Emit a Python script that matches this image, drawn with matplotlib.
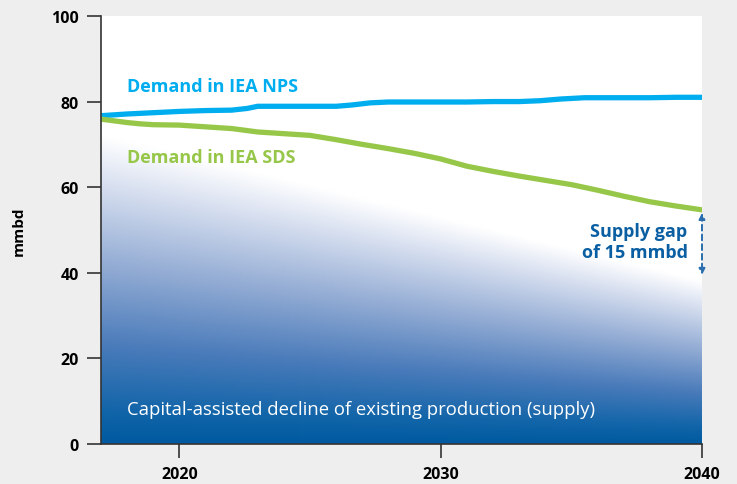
import numpy as np
import matplotlib
matplotlib.use("Agg")
import matplotlib.pyplot as plt
from matplotlib.colors import LinearSegmentedColormap
from matplotlib.patches import Polygon

plt.rcParams['font.family'] = ['Open Sans', 'DejaVu Sans']

years = [2017, 2018, 2019, 2020, 2021, 2022, 2022.6, 2023, 2024, 2025, 2026, 2026.6, 2027.3, 2028,
         2029, 2030, 2031, 2032, 2033, 2033.8, 2034.6, 2035.5, 2036, 2037, 2038, 2039, 2040]
nps = [76.7, 77.1, 77.4, 77.7, 77.9, 78.0, 78.4, 78.9, 78.9, 78.9, 78.9, 79.2, 79.7, 79.9,
       79.9, 79.9, 79.9, 80.0, 80.0, 80.2, 80.6, 80.9, 80.9, 80.9, 80.9, 81.0, 81.0]
sds_years = [2017, 2018, 2018.5, 2019, 2020, 2021, 2022, 2023, 2024, 2025, 2026, 2027, 2028,
             2029, 2030, 2031, 2032, 2033, 2034, 2035, 2036, 2037, 2038, 2039, 2040]
sds = [75.9, 75.1, 74.8, 74.6, 74.5, 74.1, 73.7, 72.9, 72.5, 72.1, 71.1, 70.0, 69.0,
       67.9, 66.6, 64.9, 63.7, 62.6, 61.6, 60.6, 59.3, 57.9, 56.6, 55.6, 54.7]
supply_years = [2017, 2040]
supply_top = [76.0, 40.0]

fig = plt.figure(figsize=(7.37, 4.85), dpi=100, facecolor='#EEEEEE')
ax = fig.add_axes([0.137, 0.0825, 0.9525 - 0.137, 0.965 - 0.0825])
ax.set_facecolor('white')
ax.set_xlim(2017, 2040)
ax.set_ylim(0, 100)

# gradient supply area
cmap = LinearSegmentedColormap.from_list('sup', [
    (0.0, '#005A9F'), (0.1, '#1265A9'), (0.3, '#4A7BBA'),
    (0.55, '#93ACD4'), (0.8, '#D8E0F0'), (0.95, '#FFFFFF'), (1.0, '#FFFFFF')])
nx, ny = 400, 400
xs = np.linspace(2017, 2040, nx)
ys = np.linspace(0, 100, ny)
X, Y = np.meshgrid(xs, ys)
top = np.interp(X, supply_years, supply_top)
T = np.clip(Y / top, 0, 1)
img = ax.imshow(T, extent=(2017, 2040, 0, 100), origin='lower', cmap=cmap,
                vmin=0, vmax=1, aspect='auto', interpolation='bilinear', zorder=1)
poly_x = list(supply_years) + [2040, 2017]
poly_y = list(supply_top) + [0, 0]
clip = Polygon(np.column_stack([poly_x, poly_y]), closed=True, transform=ax.transData)
img.set_clip_path(clip)

ax.plot(years, nps, color='#00AEEF', lw=3.8, solid_capstyle='round', zorder=3)
ax.plot(sds_years, sds, color='#97C749', lw=3.8, solid_capstyle='round', zorder=3)

ax.text(2018.0, 83.6, 'Demand in IEA NPS', color='#00AEEF', fontsize=13,
        fontweight='bold', va='center', ha='left', zorder=4)
ax.text(2018.0, 67.0, 'Demand in IEA SDS', color='#97C749', fontsize=13,
        fontweight='bold', va='center', ha='left', zorder=4)
ax.text(2039.45, 47.4, 'Supply gap\nof 15 mmbd', color='#0A5FA3', fontsize=13,
        fontweight='bold', va='center', ha='right', linespacing=1.2, zorder=4)
ax.text(2018.0, 8.2, 'Capital-assisted decline of existing production (supply)',
        color='white', fontsize=13.3, va='center', ha='left', zorder=4)

ax.annotate('', xy=(2040, 39.5), xytext=(2040, 54.0),
            arrowprops=dict(arrowstyle='<|-|>', color='#2A6EAD', lw=1.4,
                            linestyle=(0, (3, 2)), mutation_scale=9,
                            shrinkA=0, shrinkB=0), zorder=5, annotation_clip=False)

for s in ['top', 'right']:
    ax.spines[s].set_visible(False)
for s in ['left', 'bottom']:
    ax.spines[s].set_color('#333333')
    ax.spines[s].set_linewidth(1.2)
ax.spines['left'].set_zorder(6)
ax.spines['bottom'].set_zorder(6)

ax.set_yticks([0, 20, 40, 60, 80, 100])
ax.set_xticks([2020, 2030, 2040])
ax.tick_params(axis='both', colors='#333333', labelcolor='black', length=10, width=1.2,
               labelsize=11.5)
ax.tick_params(axis='x', pad=6, labelsize=11.5)
ax.tick_params(axis='y', pad=6)
for lab in ax.get_xticklabels() + ax.get_yticklabels():
    lab.set_fontweight('bold')
ax.set_ylabel('mmbd', fontsize=11, fontweight='bold', labelpad=18)

fig.savefig('out.png', dpi=100, facecolor=fig.get_facecolor())
